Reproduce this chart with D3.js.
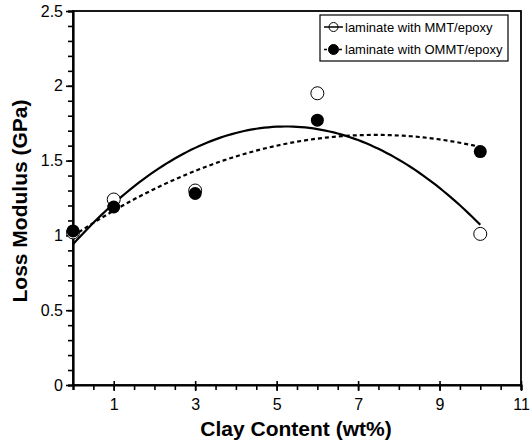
<!DOCTYPE html>
<html><head><meta charset="utf-8">
<script src="https://cdn.jsdelivr.net/npm/d3@7"></script>
<style>body{margin:0;background:#fff}svg{display:block}text{font-family:"Liberation Sans",Arial,sans-serif}</style>
</head><body>
<svg id="c" width="531" height="445"></svg>
<script>
const clay = [0, 1, 3, 6, 10];
const mmt = [1.02, 1.24, 1.30, 1.95, 1.01];
const ommt = [1.03, 1.19, 1.28, 1.77, 1.56];
const xTicks = [1, 3, 5, 7, 9, 11];
const yTicks = [0, 0.5, 1, 1.5, 2, 2.5];
const seriesNames = ["laminate with MMT/epoxy", "laminate with OMMT/epoxy"];

const svg = d3.select("#c");
const m = {l: 73, r: 10, t: 11, b: 60};
const W = 531, H = 445;
const x = d3.scaleLinear().domain([0, 11]).range([m.l, W - m.r]);
const y = d3.scaleLinear().domain([0, 2.5]).range([H - m.b, m.t]);

// quadratic least squares fit
function quadFit(xs, ys) {
  let S = [0,0,0,0,0], T = [0,0,0];
  xs.forEach((xi, i) => {
    for (let k = 0; k < 5; k++) S[k] += Math.pow(xi, k);
    for (let k = 0; k < 3; k++) T[k] += Math.pow(xi, k) * ys[i];
  });
  const A = [[S[0],S[1],S[2],T[0]],[S[1],S[2],S[3],T[1]],[S[2],S[3],S[4],T[2]]];
  for (let i = 0; i < 3; i++) {
    for (let j = i + 1; j < 3; j++) {
      const f = A[j][i] / A[i][i];
      for (let k = i; k < 4; k++) A[j][k] -= f * A[i][k];
    }
  }
  const c = [0,0,0];
  for (let i = 2; i >= 0; i--) {
    let s = A[i][3];
    for (let k = i + 1; k < 3; k++) s -= A[i][k] * c[k];
    c[i] = s / A[i][i];
  }
  return t => c[0] + c[1]*t + c[2]*t*t;
}

// frame
svg.append("rect").attr("x", x(0)).attr("y", y(2.5)).attr("width", x(11)-x(0)).attr("height", y(0)-y(2.5))
  .attr("fill", "none").attr("stroke", "#000").attr("stroke-width", 1.8);

// axes
const xAxis = d3.axisBottom(x).tickValues(d3.range(0, 11.01, 0.5)).tickSize(5).tickFormat("");
svg.append("g").attr("transform", `translate(0,${y(0)})`).call(xAxis)
  .call(g => { g.select(".domain").attr("stroke-width", 2.2); g.selectAll(".tick line").attr("stroke-width", 1.6); });
svg.append("g").attr("transform", `translate(0,${y(0)})`)
  .call(d3.axisBottom(x).tickValues(xTicks).tickSize(6).tickFormat(d3.format("d")))
  .call(g => { g.select(".domain").remove(); g.selectAll(".tick line").attr("stroke-width", 1.6).attr("y1", -4);
    g.selectAll("text").attr("font-size", 16).attr("fill", "#000").attr("dy", "1.0em"); });

svg.append("g").attr("transform", `translate(${x(0)},0)`)
  .call(d3.axisLeft(y).tickValues(d3.range(0, 2.501, 0.1)).tickSize(5).tickFormat(""))
  .call(g => { g.select(".domain").attr("stroke-width", 2.2); g.selectAll(".tick line").attr("stroke-width", 1.6); });
svg.append("g").attr("transform", `translate(${x(0)},0)`)
  .call(d3.axisLeft(y).tickValues(yTicks).tickSize(7).tickFormat(d => d))
  .call(g => { g.select(".domain").remove(); g.selectAll(".tick line").attr("stroke-width", 1.6);
    g.selectAll("text").attr("font-size", 16).attr("fill", "#000").attr("x", -10); });

// titles
svg.append("text").attr("x", 296).attr("y", 436).attr("text-anchor", "middle")
  .attr("font-size", 21).attr("font-weight", "bold").text("Clay Content (wt%)");
svg.append("text").attr("transform", `translate(27,201) rotate(-90)`).attr("text-anchor", "middle")
  .attr("font-size", 21).attr("font-weight", "bold").text("Loss Modulus (GPa)");

// fits
const f1 = quadFit(clay, mmt), f2 = quadFit(clay, ommt);
const xs = d3.range(0, 10.001, 0.1);
const line = f => d3.line().x(d => x(d)).y(d => y(f(d)));
svg.append("path").datum(xs).attr("d", line(f2)).attr("fill", "none").attr("stroke", "#000")
  .attr("stroke-width", 2.2).attr("stroke-dasharray", "4,3");
svg.append("path").datum(xs).attr("d", line(f1)).attr("fill", "none").attr("stroke", "#000")
  .attr("stroke-width", 2.2);

// points
svg.selectAll(".p1").data(clay).enter().append("circle").attr("cx", d => x(d)).attr("cy", (d,i) => y(mmt[i]))
  .attr("r", 6.5).attr("fill", "#fff").attr("stroke", "#000").attr("stroke-width", 1);
svg.selectAll(".p2").data(clay).enter().append("circle").attr("cx", d => x(d)).attr("cy", (d,i) => y(ommt[i]))
  .attr("r", 6.5).attr("fill", "#000");

// legend
const lg = svg.append("g");
lg.append("rect").attr("x", 320).attr("y", 15).attr("width", 188).attr("height", 46)
  .attr("fill", "#fff").attr("stroke", "#000").attr("stroke-width", 1.2);
[0, 1].forEach(i => {
  const yy = 27 + i * 22.5;
  lg.append("circle").attr("cx", 333.5).attr("cy", yy).attr("r", i ? 5 : 4.5)
    .attr("fill", i ? "#000" : "#fff").attr("stroke", "#000").attr("stroke-width", 1);
  lg.append("line").attr("x1", 324).attr("x2", 343).attr("y1", yy).attr("y2", yy).attr("stroke", "#000")
    .attr("stroke-width", 1.5).attr("stroke-dasharray", i ? "3,2" : null);
  lg.append("text").attr("x", 345).attr("y", yy + 4.5).attr("font-size", 13).text(seriesNames[i]);
});
</script>
</body></html>
